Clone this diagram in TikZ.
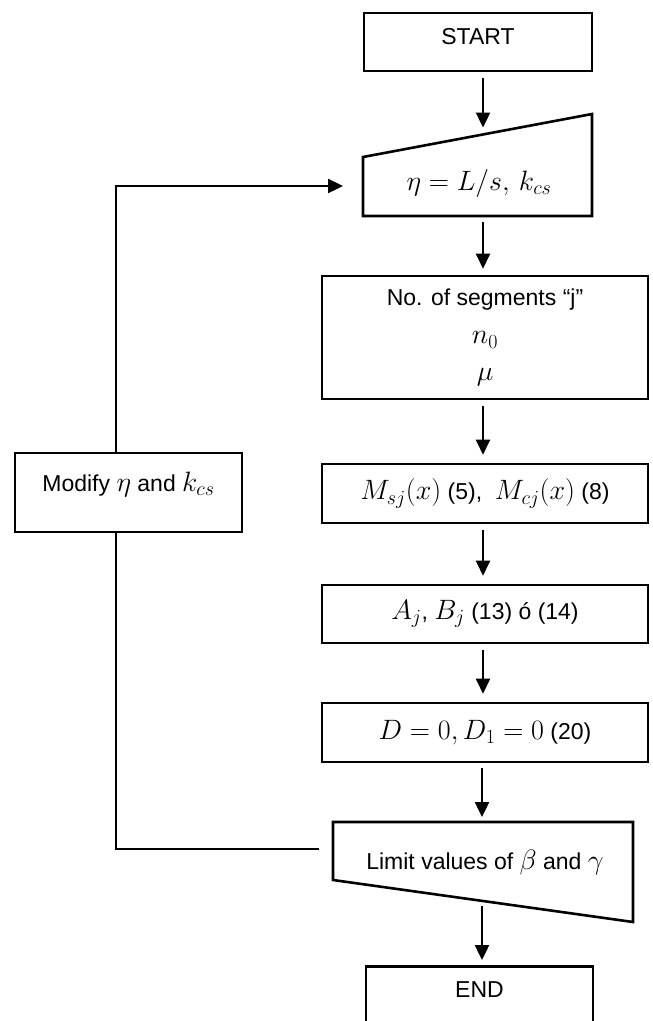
\RequirePackage{fix-cm}
\documentclass[tikz,border=0pt]{standalone}
\usepackage[no-math]{fontspec}
\setmainfont{Liberation Sans}
\DeclareMathSizes{23}{28}{20}{15}
\usetikzlibrary{arrows.meta,calc}
\tikzset{
  every node/.style={font=\fontsize{23}{28}\selectfont},
  boxnode/.style={draw, line width=2.6pt, rectangle, inner sep=0pt, align=center},
  txt/.style={align=center},
  shapeline/.style={draw, line width=2.6pt, line join=miter},
  flow/.style={line width=2.4pt, -{Triangle[length=15pt,width=14pt]}},
  plainline/.style={line width=2.4pt},
}
\begin{document}
\begin{tikzpicture}[x=1pt,y=-1pt]
\useasboundingbox (0,0) rectangle (653,1021);
% START
\node[boxnode, minimum width=228pt, minimum height=58pt] (start) at (478,42) {};
\node[txt] (starttxt) at (478,37) {START};
% input trapezoid
\coordinate (inA) at (363,157);
\coordinate (inB) at (592,114);
\coordinate (inC) at (592,216);
\coordinate (inD) at (363,216);
\draw[shapeline] (inA) -- (inB) -- (inC) -- (inD) -- cycle;
\node[txt] (intxt) at (479,183) {$\eta = L/s,\, k_{cs}$};
\coordinate (intop) at (483,134.5);
\coordinate (inbot) at (483,216);
\coordinate (inleft) at (363,186);
% box3
\node[boxnode, minimum width=326pt, minimum height=123pt] (seg) at (485,337.5) {};
\node[txt] (segtxt) at (485,300) {No. of segments “j”};
\node[txt] (n0txt) at (485,340) {$n_0$};
\node[txt] (mutxt) at (485,377) {$\mu$};
% box4
\node[boxnode, minimum width=326pt, minimum height=59pt] (msj) at (485,493.5) {$M_{sj}(x)$ (5),\ \ $M_{cj}(x)$ (8)};
% box5
\node[boxnode, minimum width=326pt, minimum height=58pt] (ab) at (485,614) {$A_j$, $B_j$ (13) ó (14)};
% box6
\node[boxnode, minimum width=326pt, minimum height=59pt] (dd) at (485,732.5) {$D=0, D_1=0$ (20)};
% limit trapezoid
\coordinate (lmA) at (333,822);
\coordinate (lmB) at (633,822);
\coordinate (lmC) at (633,922);
\coordinate (lmD) at (333,880);
\draw[shapeline] (lmA) -- (lmB) -- (lmC) -- (lmD) -- cycle;
\node[txt] (lmtxt) at (485,862) {Limit values of $\beta$ and $\gamma$};
\coordinate (lmtop) at (482,822);
\coordinate (lmbot) at (482,903);
\coordinate (lmleft) at (333,849);
% END
\node[boxnode, minimum width=227pt, minimum height=90pt, anchor=north] (end) at (479.5,965) {};
\node[txt] (endtxt) at (479.5,990) {END};
% modify
\node[boxnode, minimum width=227pt, minimum height=79pt] (mod) at (128.5,492.5) {};
\node[txt] (modtxt) at (128.5,484) {Modify $\eta$ and $k_{cs}$};
\coordinate (lx) at (116,0);
% connectors
\draw[flow, shorten <=6pt, shorten >=7pt] (start.south -| intop) -- (intop);
\draw[flow, shorten <=6pt, shorten >=6pt] (inbot) -- (inbot |- seg.north);
\draw[flow, shorten <=6pt, shorten >=8pt] (seg.south -| inbot) -- (inbot |- msj.north);
\draw[flow, shorten <=6pt, shorten >=8pt] (msj.south -| inbot) -- (inbot |- ab.north);
\draw[flow, shorten <=6pt, shorten >=8pt] (ab.south -| inbot) -- (inbot |- dd.north);
\draw[flow, shorten <=5pt, shorten >=5pt] (dd.south -| lmtop) -- (lmtop);
\draw[flow, shorten <=3pt, shorten >=5pt] (lmbot) -- (lmbot |- end.north);
\draw[plainline] ([xshift=-14pt]lmleft) -| (lx |- mod.south);
\draw[flow, shorten >=20pt] (lx |- mod.north) |- (inleft);
\end{tikzpicture}
\end{document}
